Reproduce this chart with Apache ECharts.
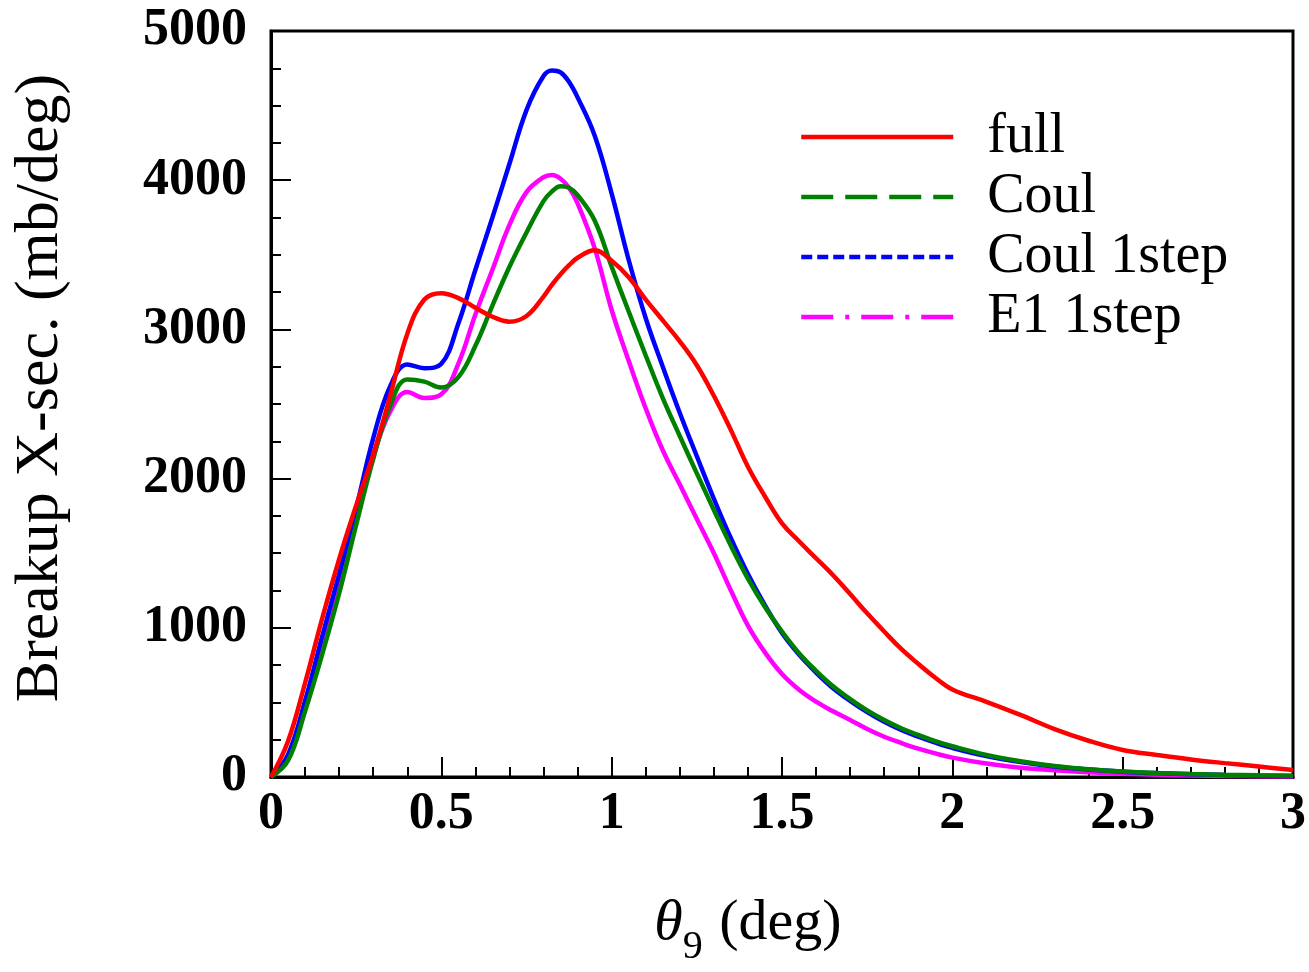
<!DOCTYPE html>
<html>
<head>
<meta charset="utf-8">
<script src="https://cdn.jsdelivr.net/npm/echarts@6/dist/echarts.min.js"></script>
<style>
html,body{margin:0;padding:0;background:#fff;}
#chart{width:1309px;height:972px;}
</style>
</head>
<body>
<div id="chart"></div>
<script>
// angle theta_9 in degrees
const theta = [0,0.05,0.1,0.15,0.2,0.25,0.3,0.35,0.4,0.45,0.5,0.55,0.6,0.65,0.7,0.75,0.8,0.825,0.85,0.875,0.9,0.95,1.0,1.05,1.1,1.15,1.2,1.25,1.3,1.35,1.4,1.45,1.5,1.55,1.6,1.65,1.7,1.75,1.8,1.85,1.9,1.95,2.0,2.1,2.2,2.3,2.4,2.5,2.6,2.7,2.8,2.9,3.0];
// breakup cross sections (mb/deg)
const full      = [0,240,630,1060,1460,1820,2160,2555,2970,3200,3243,3210,3145,3085,3052,3090,3220,3300,3370,3430,3480,3530,3460,3350,3200,3060,2920,2760,2555,2325,2080,1880,1700,1580,1466,1352,1226,1097,975,858,758,665,587,504,416,321,243,181,148,118,93,70,47];
const coul      = [0,110,440,820,1230,1690,2130,2490,2665,2650,2610,2680,2890,3160,3420,3650,3860,3925,3960,3950,3900,3730,3420,3120,2825,2540,2285,2035,1790,1550,1330,1140,975,830,712,608,522,447,382,327,282,240,206,148,106,74,52,37,27,20,15,11,8];
const coul1step = [0,150,510,940,1360,1800,2270,2620,2765,2740,2770,3040,3400,3750,4110,4470,4698,4735,4722,4658,4555,4300,3910,3465,3075,2750,2440,2150,1865,1600,1360,1150,965,820,700,595,510,435,370,315,270,230,195,140,100,70,50,36,26,19,14,10,7];
const e11step   = [0,120,460,850,1260,1720,2150,2450,2580,2540,2565,2770,3100,3400,3700,3920,4020,4035,4010,3950,3845,3545,3130,2790,2470,2190,1960,1730,1500,1250,1015,835,690,585,505,440,382,322,270,228,190,158,130,90,62,45,32,22,15,10,7,5,3];
const seriesNames = ['full','Coul','Coul 1step','E1 1step'];
const xTicks = [0,0.5,1,1.5,2,2.5,3];
const yTicks = [0,1000,2000,3000,4000,5000];

const pairs = arr => theta.map((t,i)=>[t, arr[i]]);
const serif = 'Liberation Serif, Times New Roman, serif';

const mk = (name, data, color) => ({
  name, type:'line', data: pairs(data), symbol:'none', smooth:0.4,
  lineStyle:{color, width:4.5, type:'solid'}, itemStyle:{color}, z:2
});

const chart = echarts.init(document.getElementById('chart'), null, {renderer:'canvas'});
chart.setOption({
  backgroundColor:'#ffffff',
  animation:false,
  grid:{left:271, top:31, width:1023, height:750, show:true, borderColor:'#000', borderWidth:3, backgroundColor:'transparent'},
  legend:{
    orient:'vertical', left:794, top:104, itemWidth:152, itemHeight:20, itemGap:4,
    itemStyle:{opacity:0},
    textStyle:{fontFamily:serif, fontSize:56, color:'#000', padding:[0,0,0,29], lineHeight:56},
    data:[
      {name:seriesNames[0], lineStyle:{type:'solid', width:4.5}},
      {name:seriesNames[1], lineStyle:{type:[32,12], width:4.5}},
      {name:seriesNames[2], lineStyle:{type:[11,5], width:4.5}},
      {name:seriesNames[3], lineStyle:{type:[32,12,4,12], width:4.5}}
    ]
  },
  xAxis:{
    type:'value', min:xTicks[0], max:xTicks[xTicks.length-1], interval:0.5,
    name:'{i|θ}{s|9} (deg)', nameLocation:'middle', nameGap:118,
    nameTextStyle:{fontFamily:serif, fontSize:58, color:'#000', padding:[0,68,0,0],
      rich:{i:{fontFamily:serif, fontStyle:'italic', fontSize:58, color:'#000'},
            s:{fontFamily:serif, fontSize:40, color:'#000', verticalAlign:'bottom', padding:[0,2,-14,0]}}},
    axisLine:{show:true, lineStyle:{color:'#000', width:3}},
    axisTick:{show:true, inside:true, length:20, lineStyle:{color:'#000', width:2}},
    minorTick:{show:true, splitNumber:5, length:10, lineStyle:{color:'#000', width:2}},
    splitLine:{show:false},
    axisLabel:{fontFamily:serif, fontWeight:'bold', fontSize:52, color:'#000', margin:12,
      formatter:v=>String(v)}
  },
  yAxis:{
    type:'value', min:yTicks[0], max:yTicks[yTicks.length-1], interval:1000,
    name:'Breakup X-sec. (mb/deg)', nameLocation:'middle', nameRotate:90, nameGap:199,
    nameTextStyle:{fontFamily:serif, fontSize:62, color:'#000', padding:[0,0,0,32]},
    axisLine:{show:true, lineStyle:{color:'#000', width:3}},
    axisTick:{show:true, inside:true, length:20, lineStyle:{color:'#000', width:2}},
    minorTick:{show:true, splitNumber:4, length:10, lineStyle:{color:'#000', width:2}},
    splitLine:{show:false},
    axisLabel:{fontFamily:serif, fontWeight:'bold', fontSize:52, color:'#000', margin:24,
      formatter:v=>String(v)}
  },
  series:[
    mk(seriesNames[3], e11step, '#ff00ff'),
    mk(seriesNames[2], coul1step, '#0000ff'),
    mk(seriesNames[1], coul, '#008000'),
    mk(seriesNames[0], full, '#ff0000')
  ]
});
</script>
</body>
</html>
